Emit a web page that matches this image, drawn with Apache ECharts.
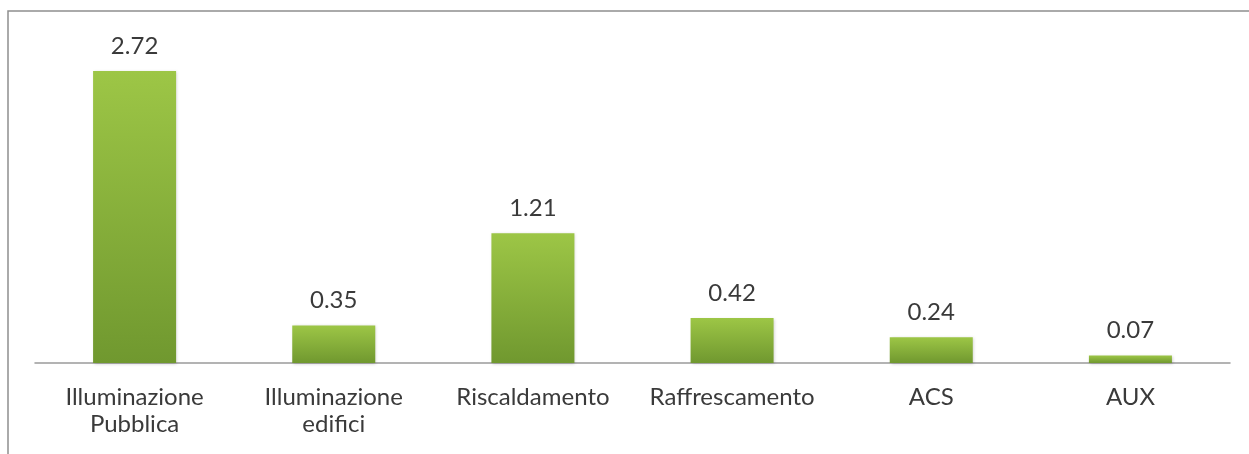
<!DOCTYPE html>
<html>
<head>
<meta charset="utf-8">
<script src="https://cdn.jsdelivr.net/npm/echarts@6/dist/echarts.min.js"></script>
<style>
  html, body { margin: 0; padding: 0; background: #fff; }
  #chart { width: 1249px; height: 454px; }
</style>
</head>
<body>
<div id="chart"></div>
<script>
// Consumi per settore
const categories = ['Illuminazione\nPubblica', 'Illuminazione\nedifici', 'Riscaldamento', 'Raffrescamento', 'ACS', 'AUX'];
const values = [2.72, 0.35, 1.21, 0.42, 0.24, 0.07];

const textColor = '#3a3a3a';
const fontFamily = 'Lato, "Open Sans", sans-serif';

const chart = echarts.init(document.getElementById('chart'), null, { renderer: 'canvas' });

chart.setOption({
  backgroundColor: '#ffffff',
  animation: false,
  graphic: [{
    type: 'rect',
    shape: { x: 8, y: 11, width: 1300, height: 600 },
    style: { fill: 'none', stroke: '#8f8f8f', lineWidth: 1.5 },
    silent: true,
    z: -1
  }],
  grid: { left: 35, right: 19, top: 41, bottom: 91, containLabel: false },
  xAxis: {
    type: 'category',
    data: categories,
    axisLine: { show: true, lineStyle: { color: '#9a9a9a', width: 1.5 } },
    axisTick: { show: false },
    axisLabel: {
      color: textColor,
      fontFamily: fontFamily,
      fontSize: 24,
      lineHeight: 27,
      margin: 21,
      interval: 0
    }
  },
  yAxis: {
    type: 'value',
    min: 0,
    max: 3,
    show: false,
    splitLine: { show: false }
  },
  series: [{
    type: 'bar',
    data: values,
    barWidth: 83,
    itemStyle: {
      color: new echarts.graphic.LinearGradient(0, 0, 0, 1, [
        { offset: 0, color: '#9dc646' },
        { offset: 1, color: '#70982f' }
      ]),
      shadowColor: 'rgba(0,0,0,0.18)',
      shadowBlur: 3,
      shadowOffsetX: 1,
      shadowOffsetY: 1
    },
    label: {
      show: true,
      position: 'top',
      distance: 13,
      color: textColor,
      fontFamily: fontFamily,
      fontSize: 24,
      formatter: p => p.value.toFixed(2)
    }
  }]
});
</script>
</body>
</html>
